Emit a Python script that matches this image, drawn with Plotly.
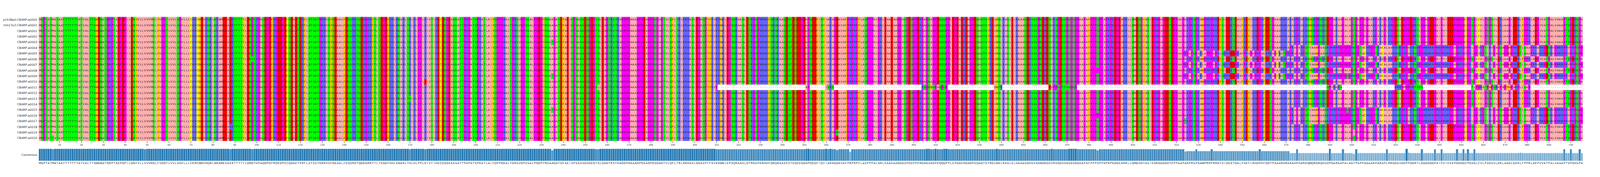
import plotly.graph_objects as go

W, H = 7335, 452

names = ["grch38p0:CBARP:a0002", "chm13v2:CBARP:a0001"] + ["CBARP:a%04d" % i for i in range(1, 21)]
row_lengths = [705] * 12 + [392] + [705] * 9

ref_chunks = [
    "MQPTATMATAATTTTTTTATVALTTSWDNATGRPTAEPDPILDNYVLLVVVMSLFVGGTLVVLSGVLLLC",
    "KRCWDVHQRLNRAMEEAEKTTTTYLDNGTHPAQDPDFRGEDPECQDAETERFLSTSSTGRRVSFNEAALF",
    "EQSRKTQDKGRRYTLTEGDFHHLKNARLTHLHLPPLKIVTIHECDSGEASSATTPHPATSPKATLAIFQP",
    "PGKALTGRSVGPSSALPGDPYNSAAGATDFAEISPSASSDSGEGTSLDAGTRSTKAGGPGAAAGPGEAGP",
    "GSGAGTVLQFLTRLRRHASLDGASPYFKVKKWKLEPSQRAASLDTRGSPKRHHFQRQRAASESTEQEEGD",
    "APQEDFIQYIARAGDAVAFPRPRPFLASPPPALGRLEAAEAAGGASPDSPPERGAGSAGPEQQQPPLEPD",
    "AERDAGPEQAQTSYRDLWSLRASLELHAAASDHSSSGNDRDSVRSGDSSGSGSGGAAPAFPPPSPPAPRP",
    "KDGEARRLLQMDSGYASIEGRGAGDDTEPPAAPARPRSPRAWPRRPRRDYSIDEKTDALFHEFLRHDPHF",
    "DDTPAAARHRARAHPHARKQWQRGRQHSDPGARAAPALAGTPAPPAGAARPARAPLRRGDSVDGPPDGRT",
    "LGGAGDDPAIPVIEEEPGGGGCPGSGLCVLPSGSVLDKLAAGLDERLFPPRLAEPVVATPALVAAAPTSP",
    "DHSPA",
]
alt_524_560 = "RPAPQPARLAPPPAPRLQHRREDGRAVPRVPAPRPAL"
alt_561_571 = "RRHAGCRATPR"
alt_572_705 = ("PRAPARPQTVAAWPAAQRPRRPRGPGPGRNPGTACRRGPTRACALAARRQRGRPARRSH"
               "PGRRRRRPRHPRHRGGAGRRGVPRLGPVRPTIRVGAGQAGGWPRRETLSAAPRRARRGDSRVGRRRPHVP"
               "RPQPG")
rows_alt_a = [5, 16, 17, 18]
rows_alt_b = [6, 8, 10]
row12_segments = [(310, "P"), (351, "AP"), (360, "ISRS"), (404, "RSGSWSPASGQP"),
                  (437, "VWTR"), (462, "EVPPSGTTSSGSG"), (589, "QPVRARS"),
                  (620, "RRRGMPPRRTS"), (631, "SS"), (655, "TLPGRATPWPSRAPAPFWPARPLLSAG")]
point_changes = [(21, 7, "T"), (15, 49, "L"), (7, 98, "S"), (19, 88, "K"), (11, 177, "E"),
                 (14, 170, "Q"), (4, 235, "T"), (10, 235, "T"), (16, 235, "T"),
                 (12, 255, "S"), (12, 256, "L"), (0, 371, "H"), (3, 371, "H"), (8, 371, "H"),
                 (13, 371, "H"), (21, 371, "H"), (20, 365, "N"), (9, 484, "P"), (17, 484, "P"),
                 (18, 524, "T"), (10, 598, "S"), (16, 598, "S"), (20, 601, "I")]
tick_vals = list(range(10, 701, 10))

ref = "".join(ref_chunks)
N = len(ref)
seqs = []
for r in range(len(names)):
    s = list(ref)
    if r in rows_alt_a:
        s[571:] = list(alt_572_705)
    if r in rows_alt_b:
        s[523:560] = list(alt_524_560)
        s[560:571] = list(alt_561_571)
        s[571:] = list(alt_572_705)
    if r == 12:
        s[309:] = ["-"] * (N - 309)
        for st, txt in row12_segments:
            for k, ch in enumerate(txt):
                s[st - 1 + k] = ch
    seqs.append(s)
for r, c, ch in point_changes:
    seqs[r][c - 1] = ch

groups = {"-": 0}
for ch in "AVLIM": groups[ch] = 1
for ch in "FWY": groups[ch] = 2
for ch in "KRH": groups[ch] = 3
for ch in "DE": groups[ch] = 4
for ch in "STNQ": groups[ch] = 5
for ch in "PG": groups[ch] = 6
groups["C"] = 7
cols = ["#ffffff", "#ffafaf", "#ffc800", "#6464ff", "#ff0000", "#00ff00", "#ff00ff", "#ffff00"]
cs = []
for i, c in enumerate(cols):
    cs.append([i / 8, c]); cs.append([(i + 1) / 8, c])

z = [[groups.get(ch, 0) for ch in s] for s in seqs]
xs = list(range(1, N + 1))

cons, ident = [], []
for j in range(N):
    counts = {}
    for s in seqs:
        ch = s[j]
        if ch != "-":
            counts[ch] = counts.get(ch, 0) + 1
    best = max(counts, key=lambda k: counts[k])
    cons.append(best)
    ident.append(counts[best] / len(seqs))
bar_colors = ["rgba(31,119,180,%.3f)" % (v * 0.9 if v < 1 else 0.97) for v in ident]

fig = go.Figure()
fig.add_trace(go.Heatmap(z=z, x=xs, y=list(range(len(names))), text=seqs,
                         texttemplate="%{text}", textfont=dict(size=7, color="#222", family="DejaVu Sans"),
                         colorscale=cs, zmin=0, zmax=8, showscale=False, hoverinfo="skip",
                         xaxis="x", yaxis="y"))
fig.add_trace(go.Scatter(x=[N + 1.2] * len(names), y=list(range(len(names))),
                         text=[str(v) for v in row_lengths], mode="text", textposition="middle right",
                         textfont=dict(size=8, color="#333", family="DejaVu Sans"),
                         cliponaxis=False, hoverinfo="skip", xaxis="x", yaxis="y"))
fig.add_trace(go.Bar(x=xs, y=ident, marker=dict(color=bar_colors, line=dict(color="white", width=0.5)),
                     width=1.0, xaxis="x2", yaxis="y2", hoverinfo="skip"))

fy = lambda px: 1 - px / H
xd = [164 / W, 7271 / W]
fig.update_layout(
    autosize=True, height=H, margin=dict(l=0, r=0, t=0, b=0, autoexpand=False),
    plot_bgcolor="white", paper_bgcolor="white", showlegend=False, bargap=0,
    font=dict(family="DejaVu Sans", color="#333"),
    xaxis=dict(domain=xd, range=[0.5, N + 0.5], tickvals=tick_vals, ticks="outside",
               ticklen=4, tickcolor="#333", tickfont=dict(size=6), showgrid=False, zeroline=False,
               anchor="y", automargin=False),
    yaxis=dict(domain=[fy(352), fy(35)], range=[len(names) - 0.5, -0.5],
               tickvals=list(range(len(names))), ticktext=names, tickfont=dict(size=7.5),
               showgrid=False, zeroline=False, ticks="", ticklabelstandoff=3, automargin=False),
    xaxis2=dict(domain=xd, range=[0.5, N + 0.5], tickvals=xs, ticktext=cons, ticks="",
                tickfont=dict(size=7, color="#222"), tickangle=0, showgrid=False, zeroline=False,
                anchor="y2", automargin=False),
    yaxis2=dict(domain=[fy(403), fy(372)], range=[0, 1.0], tickvals=[0.5], ticktext=["Consensus"],
                tickfont=dict(size=7.5), showgrid=False, zeroline=False, ticks="", ticklabelstandoff=3,
                automargin=False),
)
fig.write_html("out.html", default_width="100%", default_height="%dpx" % H,
               config={"responsive": True})
